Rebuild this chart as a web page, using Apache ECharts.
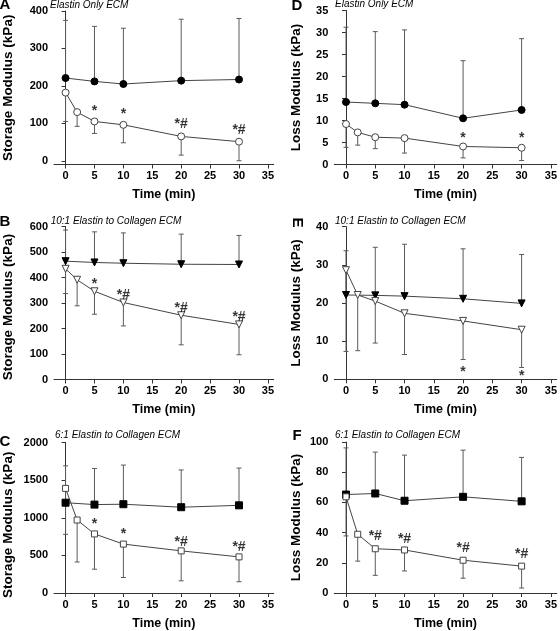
<!DOCTYPE html>
<html><head><meta charset="utf-8">
<script src="https://cdn.jsdelivr.net/npm/echarts@6/dist/echarts.min.js"></script>
<style>html,body{margin:0;padding:0;background:#fff}#c{width:560px;height:631px}</style>
</head><body><div id="c"></div>
<script>
// ---- shared ----
const timeFilled = [0, 5, 10, 20, 30];
const timeOpen = [0, 2, 5, 10, 20, 30];
const xTickValues = [0, 5, 10, 15, 20, 25, 30, 35];

// ---- Panel A: Elastin only, storage modulus ----
const A_filled = [221, 212, 205, 214, 217];
const A_filledUpper = [375, 359, 354, 378, 380];
const A_open = [182, 130, 105, 96, 65, 51];
const A_openLower = [105, 92, 73, 48, 15, 0];
const A_yTicks = [0, 100, 200, 300, 400];
const A_starX = [5, 10, 20, 30];
const A_starY = [132, 125, 97, 83];
const A_starText = ['*', '*', '*#', '*#'];

// ---- Panel B: 10:1, storage modulus ----
const B_filled = [464, 459, 456, 452, 451];
const B_filledUpper = [586, 579, 575, 570, 565];
const B_open = [434, 391, 346, 302, 252, 216];
const B_openLower = [337, 289, 256, 210, 136, 97];
const B_yTicks = [0, 100, 200, 300, 400, 500, 600];
const B_starX = [5, 10, 20, 30];
const B_starY = [372, 329, 280, 245];
const B_starText = ['*', '*#', '*#', '*#'];

// ---- Panel C: 6:1, storage modulus ----
const C_filled = [1200, 1175, 1180, 1140, 1165];
const C_filledUpper = [1690, 1655, 1700, 1635, 1660];
const C_open = [1390, 970, 785, 650, 560, 480];
const C_openLower = [780, 412, 316, 206, 162, 150];
const C_yTicks = [0, 500, 1000, 1500, 2000];
const C_starX = [5, 10, 20, 30];
const C_starY = [920, 780, 680, 610];
const C_starText = ['*', '*', '*#', '*#'];

// ---- Panel D: Elastin only, loss modulus ----
const D_filled = [14.2, 13.9, 13.6, 10.5, 12.4];
const D_filledUpper = [31.2, 30.2, 30.6, 23.6, 28.6];
const D_open = [9.2, 7.3, 6.2, 6.0, 4.1, 3.8];
const D_openLower = [3.9, 4.4, 3.6, 2.6, 1.5, 0.9];
const D_yTicks = [0, 5, 10, 15, 20, 25, 30, 35];
const D_starX = [20, 30];
const D_starY = [5.9, 5.9];
const D_starText = ['*', '*'];

// ---- Panel E: 10:1, loss modulus ----
const E_filled = [22.1, 22.0, 21.8, 21.1, 19.9];
const E_filledUpper = [33.7, 34.6, 35.4, 34.2, 32.7];
const E_open = [28.6, 22.1, 20.5, 17.3, 15.3, 13.0];
const E_openLower = [7.3, 7.5, 9.5, 6.5, 5.2, 3.1];
const E_yTicks = [0, 10, 20, 30, 40];
const E_starX = [20, 30];
const E_starY = [2.0, 0.7];
const E_starText = ['*', '*'];

// ---- Panel F: 6:1, loss modulus ----
const F_filled = [65.2, 65.9, 61.1, 63.7, 60.7];
const F_filledUpper = [96.1, 93.3, 91.3, 94.6, 89.8];
const F_open = [63.7, 38.9, 29.3, 28.5, 21.7, 17.8];
const F_openLower = [37.8, 21.1, 11.7, 14.6, 9.8, 3.3];
const F_yTicks = [0, 20, 40, 60, 80, 100];
const F_starX = [5, 10, 20, 30];
const F_starY = [37.5, 35.7, 29.6, 25.5];
const F_starText = ['*#', '*#', '*#', '*#'];

const FONT = '"Liberation Sans", Arial, Helvetica, sans-serif';

const panels = [
  {letter:'A', sub:'Elastin Only ECM', yName:'Storage Modulus (kPa)', yMin:-10, yMax:400, yTicks:A_yTicks,
   filled:A_filled, filledUp:A_filledUpper, open:A_open, openLo:A_openLower, sym:'circle',
   sx:A_starX, sy:A_starY, st:A_starText, left:48.7, top:11, height:153.5, nameGap:39, namePad:[0,0,0,0],
   lx:5, ly:5, rot:0, subx:50, suby:5},
  {letter:'B', sub:'10:1 Elastin to Collagen ECM', yName:'Storage Modulus (kPa)', yMin:0, yMax:600, yTicks:B_yTicks,
   filled:B_filled, filledUp:B_filledUpper, open:B_open, openLo:B_openLower, sym:'triangle',
   sx:B_starX, sy:B_starY, st:B_starText, left:48.7, top:226.5, height:153, nameGap:39, namePad:[0,8,0,0],
   lx:5, ly:221.5, rot:0, subx:50.7, suby:221},
  {letter:'C', sub:'6:1 Elastin to Collagen ECM', yName:'Storage Modulus (kPa)', yMin:0, yMax:2000, yTicks:C_yTicks,
   filled:C_filled, filledUp:C_filledUpper, open:C_open, openLo:C_openLower, sym:'rect',
   sx:C_starX, sy:C_starY, st:C_starText, left:48.7, top:442.5, height:152.5, nameGap:39, namePad:[0,14,0,0],
   lx:5, ly:442, rot:0, subx:55, suby:435},
  {letter:'D', sub:'Elastin Only ECM', yName:'Loss Modulus (kPa)', yMin:0, yMax:35, yTicks:D_yTicks,
   filled:D_filled, filledUp:D_filledUpper, open:D_open, openLo:D_openLower, sym:'circle',
   sx:D_starX, sy:D_starY, st:D_starText, left:334.3, top:10.5, height:154, nameGap:31, namePad:[0,0,0,0],
   lx:297, ly:6, rot:0, subx:335, suby:4},
  {letter:'E', sub:'10:1 Elastin to Collagen ECM', yName:'Loss Modulus (kPa)', yMin:0, yMax:40, yTicks:E_yTicks,
   filled:E_filled, filledUp:E_filledUpper, open:E_open, openLo:E_openLower, sym:'triangle',
   sx:E_starX, sy:E_starY, st:E_starText, left:334.3, top:226.7, height:152.6, nameGap:31, namePad:[0,0,0,0],
   lx:297, ly:222.5, rot:-Math.PI/2, subx:335, suby:221},
  {letter:'F', sub:'6:1 Elastin to Collagen ECM', yName:'Loss Modulus (kPa)', yMin:0, yMax:100, yTicks:F_yTicks,
   filled:F_filled, filledUp:F_filledUpper, open:F_open, openLo:F_openLower, sym:'rect',
   sx:F_starX, sy:F_starY, st:F_starText, left:334.3, top:442, height:153.3, nameGap:31, namePad:[0,0,0,0],
   lx:297, ly:435.5, rot:0, subx:335, suby:435}
];

function errSeries(gi, xs, ys, ends) {
  return {
    type: 'custom', xAxisIndex: gi, yAxisIndex: gi, silent: true, z: 1,
    data: xs.map((x, k) => [x, ys[k], ends[k]]),
    encode: {x: 0, y: [1, 2]},
    renderItem(params, api) {
      const p0 = api.coord([api.value(0), api.value(1)]);
      const p1 = api.coord([api.value(0), api.value(2)]);
      const st = {stroke: '#5a5a5a', lineWidth: 1};
      return {type: 'group', children: [
        {type: 'line', shape: {x1: p0[0], y1: p0[1], x2: p1[0], y2: p1[1]}, style: st},
        {type: 'line', shape: {x1: p1[0] - 2.5, y1: p1[1], x2: p1[0] + 2.5, y2: p1[1]}, style: st}
      ]};
    }
  };
}

const grid = [], xAxis = [], yAxis = [], series = [], graphic = [];
panels.forEach((p, i) => {
  grid.push({left: p.left, top: p.top, width: 225, height: p.height});
  xAxis.push({
    gridIndex: i, type: 'value', min: -2, max: 36,
    name: 'Time (min)', nameLocation: 'middle', nameGap: 24,
    nameTextStyle: {fontFamily: FONT, fontWeight: 'bold', fontSize: 12.5, color: '#000'},
    axisLine: {onZero: false, lineStyle: {color: '#333', width: 1}},
    axisTick: {customValues: xTickValues, length: 4, lineStyle: {color: '#333'}},
    axisLabel: {customValues: xTickValues, fontFamily: FONT, fontWeight: 'bold', fontSize: 11, color: '#000', margin: 6,
      formatter: v => String(v)},
    splitLine: {show: false}
  });
  yAxis.push({
    gridIndex: i, type: 'value', min: p.yMin, max: p.yMax,
    name: p.yName, nameLocation: 'middle', nameGap: p.nameGap, nameRotate: 90,
    nameTextStyle: {fontFamily: FONT, fontWeight: 'bold', fontSize: 13.5, color: '#000', padding: p.namePad},
    axisLine: {show: true, lineStyle: {color: '#333', width: 1}},
    axisTick: {show: true, customValues: p.yTicks, length: 4, lineStyle: {color: '#333'}},
    axisLabel: {customValues: p.yTicks, fontFamily: FONT, fontWeight: 'bold', fontSize: 11, color: '#000', margin: 6,
      formatter: v => String(v)},
    splitLine: {show: false}
  });
  series.push(errSeries(i, timeFilled, p.filled, p.filledUp));
  series.push(errSeries(i, timeOpen, p.open, p.openLo));
  const rot = p.sym === 'triangle' ? 180 : 0;
  series.push({
    type: 'line', xAxisIndex: i, yAxisIndex: i, z: 3,
    data: timeFilled.map((x, k) => [x, p.filled[k]]),
    symbol: p.sym, symbolSize: 7, symbolRotate: rot, showAllSymbol: true,
    lineStyle: {color: '#444', width: 1},
    itemStyle: {color: '#000', borderColor: '#000', borderWidth: 1}
  });
  series.push({
    type: 'line', xAxisIndex: i, yAxisIndex: i, z: 3,
    data: timeOpen.map((x, k) => [x, p.open[k]]),
    symbol: p.sym, symbolSize: p.sym === 'rect' ? 6 : 7, symbolRotate: rot, showAllSymbol: true,
    lineStyle: {color: '#444', width: 1},
    itemStyle: {color: '#fff', borderColor: '#444', borderWidth: 1}
  });
  series.push({
    type: 'scatter', xAxisIndex: i, yAxisIndex: i, z: 4, silent: true,
    data: p.sx.map((x, k) => [x, p.sy[k], p.st[k]]),
    symbolSize: 0,
    label: {show: true, position: 'inside', formatter: d => d.value[2],
      fontFamily: FONT, fontWeight: 'bold', fontSize: 14, color: '#000'}
  });
  graphic.push({type: 'text', x: p.lx, y: p.ly, rotation: p.rot,
    style: {text: p.letter, font: 'bold 15px ' + FONT, fill: '#000', align: 'center', verticalAlign: 'middle'}});
  graphic.push({type: 'text', x: p.subx, y: p.suby,
    style: {text: p.sub, font: 'italic 10px ' + FONT, fill: '#000', align: 'left', verticalAlign: 'middle'}});
});

const chart = echarts.init(document.getElementById('c'), null, {renderer: 'canvas'});
chart.setOption({animation: false, backgroundColor: '#fff', grid, xAxis, yAxis, series, graphic});
</script>
</body></html>
